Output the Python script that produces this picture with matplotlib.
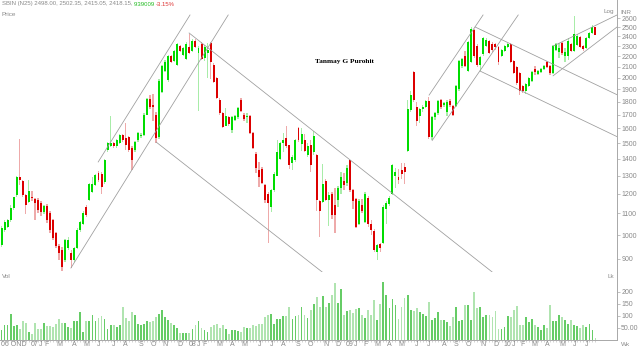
import matplotlib
matplotlib.use('Agg')
import matplotlib.pyplot as plt
import pandas as pd

plt.rcParams['font.family'] = ['Liberation Sans', 'DejaVu Sans']

# weekly SBIN data, Oct 2006 - Jul 2010
opens = [957, 1022, 1036, 1068, 1126, 1192, 1290, 1268, 1192, 1155,
         1185, 1170, 1166, 1150, 1105, 1135, 1100, 1068, 1010, 952,
         936, 896, 945, 925, 896, 945, 1022, 1050, 1130, 1166,
         1210, 1245, 1315, 1310, 1262, 1452, 1480, 1500, 1478, 1500,
         1551, 1535, 1540, 1470, 1452, 1517, 1545, 1551, 1700, 1820,
         1770, 1700, 1540, 1880, 2060, 1980, 2200, 2155, 2115, 2300,
         2210, 2175, 2290, 2250, 2350, 2230, 2320, 2180, 2230, 2330,
         2120, 2000, 1815, 1710, 1620, 1680, 1590, 1660, 1680, 1815,
         1700, 1680, 1690, 1565, 1430, 1330, 1340, 1245, 1200, 1130,
         1218, 1300, 1400, 1500, 1535, 1484, 1375, 1390, 1600, 1495,
         1517, 1420, 1484, 1440, 1421, 1160, 1155, 1270, 1166, 1200,
         1141, 1166, 1230, 1270, 1260, 1390, 1220, 1170, 1050, 1140,
         1060, 1180, 1050, 1020, 930, 960, 965, 1120, 1145, 1200,
         1300, 1290, 1330, 1350, 1450, 1735, 2050, 1760, 1690, 1740,
         1760, 1808, 1540, 1680, 1710, 1815, 1770, 1720, 1808, 1769,
         1769, 1900, 2107, 2200, 2060, 2140, 2470, 2300, 2120, 2220,
         2300, 2350, 2320, 2320, 2290, 2200, 2250, 2290, 2320, 2150,
         2100, 2040, 1930, 1890, 1930, 1975, 2080, 2030, 2050, 2080,
         2140, 2110, 2040, 2260, 2240, 2330, 2200, 2200, 2320, 2250,
         2310, 2390, 2300, 2280, 2380, 2440, 2498.00]
highs = [1040, 1068, 1075, 1141, 1185, 1300, 1530, 1275, 1200, 1273,
         1215, 1180, 1175, 1160, 1140, 1145, 1110, 1075, 1015, 960,
         950, 985, 990, 935, 950, 1030, 1065, 1110, 1140, 1260,
         1290, 1310, 1325, 1320, 1400, 1510, 1693, 1510, 1525, 1560,
         1560, 1635, 1550, 1480, 1515, 1575, 1570, 1710, 1830, 1850,
         1865, 1720, 1990, 2120, 2160, 2210, 2215, 2260, 2330, 2310,
         2290, 2340, 2420, 2370, 2375, 2300, 2340, 2310, 2330, 2340,
         2130, 2010, 1830, 1720, 1750, 1690, 1690, 1700, 1760, 1830,
         1710, 1710, 1700, 1575, 1440, 1380, 1350, 1250, 1210, 1225,
         1320, 1517, 1510, 1570, 1620, 1490, 1420, 1530, 1610, 1600,
         1560, 1500, 1517, 1580, 1430, 1165, 1370, 1280, 1210, 1210,
         1230, 1240, 1320, 1315, 1360, 1395, 1225, 1180, 1170, 1170,
         1210, 1190, 1070, 1025, 960, 965, 1140, 1160, 1190, 1370,
         1345, 1340, 1375, 1375, 1810, 1890, 2060, 1800, 1750, 1770,
         1815, 1840, 1690, 1720, 1815, 1820, 1800, 1810, 1820, 1775,
         1940, 2165, 2180, 2250, 2350, 2500, 2480, 2320, 2200, 2390,
         2380, 2360, 2340, 2330, 2300, 2270, 2310, 2330, 2330, 2160,
         2110, 2050, 1940, 1955, 2010, 2060, 2110, 2070, 2090, 2120,
         2150, 2120, 2310, 2330, 2330, 2340, 2280, 2380, 2330, 2620,
         2430, 2400, 2310, 2390, 2450, 2520, 2502.35]
lows = [950, 1013, 1030, 1060, 1115, 1185, 1245, 1185, 1097, 1150,
        1160, 1068, 1100, 1090, 1095, 1055, 1010, 980, 945, 898,
        855, 890, 935, 865, 890, 940, 1015, 1045, 1085, 1160,
        1205, 1240, 1265, 1200, 1255, 1445, 1475, 1470, 1470, 1495,
        1510, 1455, 1445, 1335, 1440, 1510, 1535, 1545, 1695, 1740,
        1656, 1500, 1530, 1870, 2050, 1960, 2130, 2145, 2105, 2240,
        2200, 2165, 2220, 2240, 2280, 1730, 2160, 2150, 2000, 1990,
        1950, 1820, 1700, 1600, 1615, 1620, 1565, 1650, 1670, 1720,
        1655, 1640, 1560, 1460, 1315, 1235, 1250, 1150, 965, 1105,
        1210, 1295, 1390, 1440, 1470, 1340, 1330, 1380, 1505, 1450,
        1440, 1410, 1320, 1420, 1110, 990, 1150, 1160, 1040, 1075,
        1010, 1130, 1200, 1220, 1240, 1210, 1120, 1030, 1045, 1100,
        1055, 1035, 1000, 930, 895, 930, 960, 1050, 1135, 1195,
        1230, 1250, 1280, 1250, 1440, 1720, 1795, 1620, 1640, 1720,
        1750, 1530, 1517, 1660, 1700, 1740, 1760, 1690, 1760, 1690,
        1760, 1890, 2090, 2100, 2050, 2130, 2180, 2100, 2060, 2200,
        2290, 2220, 2240, 2260, 2120, 2190, 2240, 2280, 2130, 2030,
        1940, 1850, 1870, 1860, 1920, 1965, 2020, 2020, 2040, 2070,
        2090, 2020, 2030, 2250, 2180, 2210, 2140, 2160, 2240, 2240,
        2300, 2280, 2250, 2270, 2370, 2430, 2415.05]
closes = [1031, 1058, 1068, 1126, 1181, 1290, 1272, 1192, 1141, 1213,
          1180, 1150, 1116, 1105, 1135, 1068, 1022, 987, 952, 925,
          868, 978, 978, 896, 945, 1022, 1058, 1100, 1092, 1250,
          1255, 1301, 1273, 1235, 1390, 1500, 1500, 1478, 1517, 1551,
          1517, 1490, 1455, 1390, 1510, 1565, 1555, 1700, 1820, 1755,
          1755, 1537, 1973, 2110, 2145, 2200, 2140, 2250, 2320, 2250,
          2280, 2320, 2230, 2350, 2290, 2280, 2175, 2290, 2260, 2140,
          1960, 1830, 1710, 1610, 1693, 1630, 1680, 1693, 1750, 1730,
          1665, 1690, 1570, 1470, 1345, 1290, 1260, 1166, 1150, 1218,
          1310, 1440, 1500, 1517, 1480, 1360, 1410, 1517, 1517, 1560,
          1450, 1480, 1360, 1545, 1166, 1110, 1255, 1166, 1192, 1092,
          1092, 1230, 1290, 1245, 1345, 1218, 1160, 1035, 1160, 1110,
          1200, 1050, 1022, 936, 957, 945, 1130, 1150, 1180, 1360,
          1320, 1273, 1310, 1320, 1740, 1850, 1810, 1650, 1740, 1760,
          1808, 1540, 1680, 1710, 1808, 1760, 1790, 1800, 1770, 1700,
          1931, 2154, 2170, 2107, 2340, 2480, 2200, 2120, 2190, 2380,
          2360, 2230, 2260, 2290, 2140, 2260, 2300, 2320, 2140, 2040,
          1950, 1890, 1890, 1945, 2000, 2050, 2050, 2060, 2080, 2110,
          2100, 2040, 2300, 2320, 2280, 2230, 2240, 2350, 2250, 2420,
          2400, 2290, 2270, 2380, 2440, 2500, 2418.15]
# weekly volume in lakh shares
volume = [40, 61, 61, 107, 58, 61, 47, 78, 72, 33,
          26, 72, 47, 47, 71, 58, 58, 54, 68, 86,
          71, 71, 54, 50, 78, 79, 117, 33, 79, 78,
          103, 78, 92, 100, 89, 47, 61, 64, 54, 64,
          137, 93, 79, 117, 103, 65, 61, 68, 79, 75,
          78, 94, 110, 124, 94, 82, 72, 61, 51, 31,
          29, 31, 29, 47, 61, 78, 50, 43, 33, 54,
          61, 65, 50, 61, 47, 24, 40, 43, 36, 33,
          54, 51, 50, 61, 58, 65, 68, 96, 103, 107,
          68, 86, 86, 100, 99, 137, 89, 100, 103, 137,
          105, 92, 124, 149, 179, 137, 183, 137, 154, 186,
          237, 154, 214, 103, 119, 124, 112, 131, 135, 103,
          92, 124, 105, 165, 82, 150, 242, 186, 133, 169,
          144, 89, 137, 175, 189, 124, 119, 133, 117, 107,
          100, 158, 82, 92, 117, 82, 82, 75, 57, 94,
          137, 78, 82, 144, 147, 82, 200, 133, 136, 96,
          103, 105, 96, 121, 47, 44, 54, 99, 96, 124,
          140, 64, 64, 96, 75, 89, 61, 54, 40, 61,
          50, 144, 78, 78, 103, 96, 82, 65, 82, 61,
          57, 50, 61, 53, 67, 40, 8]

# hand-drawn trend channels: (week index, price) at both ends
chan_x = [(22.9, 74.8), (31.9, 62.2), (61.9, 161.9), (51.0, 105.8), (142.1, 170.5),
          (141.1, 158.9), (156.3, 203.1), (157.9, 203.1), (182.0, 203.1), (182.1, 203.1)]
chan_y = [(865, 2637), (1380, 2637), (2436, 850), (1507, 850), (1517, 2637),
          (1853, 2637), (2501, 1856), (2060, 1543), (2017, 2501), (2300, 2637)]

price_ticks = [900, 1000, 1100, 1200, 1300, 1400, 1500, 1600, 1700, 1800, 1900,
               2000, 2100, 2200, 2300, 2400, 2500, 2600]
vol_ticks = [50, 100, 150, 200]
vol_labels = ['50.00', '100', '150', '200']

dates = pd.date_range('2006-10-20', periods=len(closes), freq='7D')
idx = list(range(len(closes)))

GREEN, LGREEN = '#00dc00', '#a8eca8'
RED, LRED = '#dc0000', '#eeaaaa'
VDARK, VLIGHT = '#66cc66', '#b0e4b0'
GRAY = '#8a8a8a'
AX = '#a8a8a8'

fig = plt.figure(figsize=(6.4, 3.49), dpi=100)
ax = fig.add_axes([0, 77 / 349, 617 / 640, 272 / 349])
axv = fig.add_axes([0, 9 / 349, 617 / 640, 68 / 349], sharex=ax)

up = [c >= o for o, c in zip(opens, closes)]
lo_b = [min(o, c) for o, c in zip(opens, closes)]
hi_b = [max(o, c) for o, c in zip(opens, closes)]

ax.bar(idx, [h - l for h, l in zip(highs, lows)], bottom=lows, width=0.45,
       color=[LGREEN if u else LRED for u in up], linewidth=0)
ax.bar(idx, [max(h - l, 3) for h, l in zip(hi_b, lo_b)], bottom=lo_b, width=0.65,
       color=[GREEN if u else RED for u in up], linewidth=0)

for (x0, x1), (y0, y1) in zip(chan_x, chan_y):
    ax.plot([x0, x1], [y0, y1], color='#9a9a9a', lw=0.55)

ax.set_yscale('log')
ax.set_ylim(849.9, 2817)
ax.set_xlim(-0.5, 203.1)
ax.yaxis.tick_right()
ax.set_yticks(price_ticks)
ax.set_yticklabels([str(t) for t in price_ticks])
ax.yaxis.set_minor_locator(plt.NullLocator())
ax.tick_params(axis='y', which='major', length=2, width=0.5, colors=AX,
               labelcolor=GRAY, labelsize=5, pad=1)
ax.tick_params(axis='x', bottom=False, labelbottom=False)

axv.bar(idx, volume, width=0.6, color=[VDARK if u else VLIGHT for u in up], linewidth=0)
axv.set_ylim(0, 283)
axv.yaxis.tick_right()
axv.set_yticks(vol_ticks)
axv.set_yticklabels(vol_labels)
axv.tick_params(axis='y', length=2, width=0.5, colors=AX, labelcolor=GRAY,
                labelsize=5, pad=1)
axv.set_xticks(idx, minor=True)
axv.set_xticks([])
axv.tick_params(axis='x', which='minor', length=1.5, width=0.4, colors='#b0b0b0')

for a in (ax, axv):
    a.set_facecolor('white')
    for s in ('top', 'left'):
        a.spines[s].set_visible(False)
    for s in ('right', 'bottom'):
        a.spines[s].set_color(AX)
        a.spines[s].set_linewidth(0.7)

# month labels under the volume panel
lab_kw = dict(transform=axv.get_xaxis_transform(), fontsize=5, color=GRAY,
              va='center', clip_on=False)
axv.text(-0.3, -5 / 68, '06 OND', ha='left', **lab_kw)
for i in range(1, len(dates)):
    d = dates[i]
    if d.month == dates[i - 1].month or d.year < 2007:
        continue
    if d.month == 1:
        axv.text(i, -5 / 68, d.strftime('%y'), ha='center', **lab_kw)
        axv.text(i + 2, -5 / 68, 'J', ha='center', **lab_kw)
    else:
        axv.text(i, -5 / 68, d.strftime('%b')[0], ha='center', **lab_kw)


def px(x, y):
    return x / 640, 1 - y / 349


# header line
t1 = fig.text(*px(2, 4), 'SBIN (N25) 2498.00, 2502.35, 2415.05, 2418.15, ',
              fontsize=4.3, color=GRAY, va='center')
fig.canvas.draw()
r = fig.canvas.get_renderer()
bb = t1.get_window_extent(r)
t2 = fig.text(bb.x1 / 640, t1.get_position()[1], '939009 ', fontsize=4.3,
              color='#22bb22', va='center')
bb2 = t2.get_window_extent(r)
fig.text(bb2.x1 / 640, t1.get_position()[1], '-3.15%', fontsize=4.3,
         color='#dd3333', va='center')

fig.text(*px(2, 14), 'Price', fontsize=4.6, color=GRAY, va='center')
fig.text(*px(2, 277), 'Vol', fontsize=4.6, color=GRAY, va='center')
fig.text(*px(614, 12), 'Log', fontsize=4.6, color=GRAY, va='center', ha='right')
fig.text(*px(620, 12), 'INR', fontsize=4.6, color=GRAY, va='center')
fig.text(*px(614, 277), 'Lk', fontsize=4.6, color=GRAY, va='center', ha='right')
fig.text(*px(621, 344), 'Wk', fontsize=4.6, color=GRAY, va='center')
fig.text(*px(315, 61), 'Tanmay G Purohit', fontsize=5.3, color='black',
         va='center', family=['Liberation Serif', 'DejaVu Serif'], fontweight='bold')

fig.savefig('out.png', dpi=100, facecolor='white')
